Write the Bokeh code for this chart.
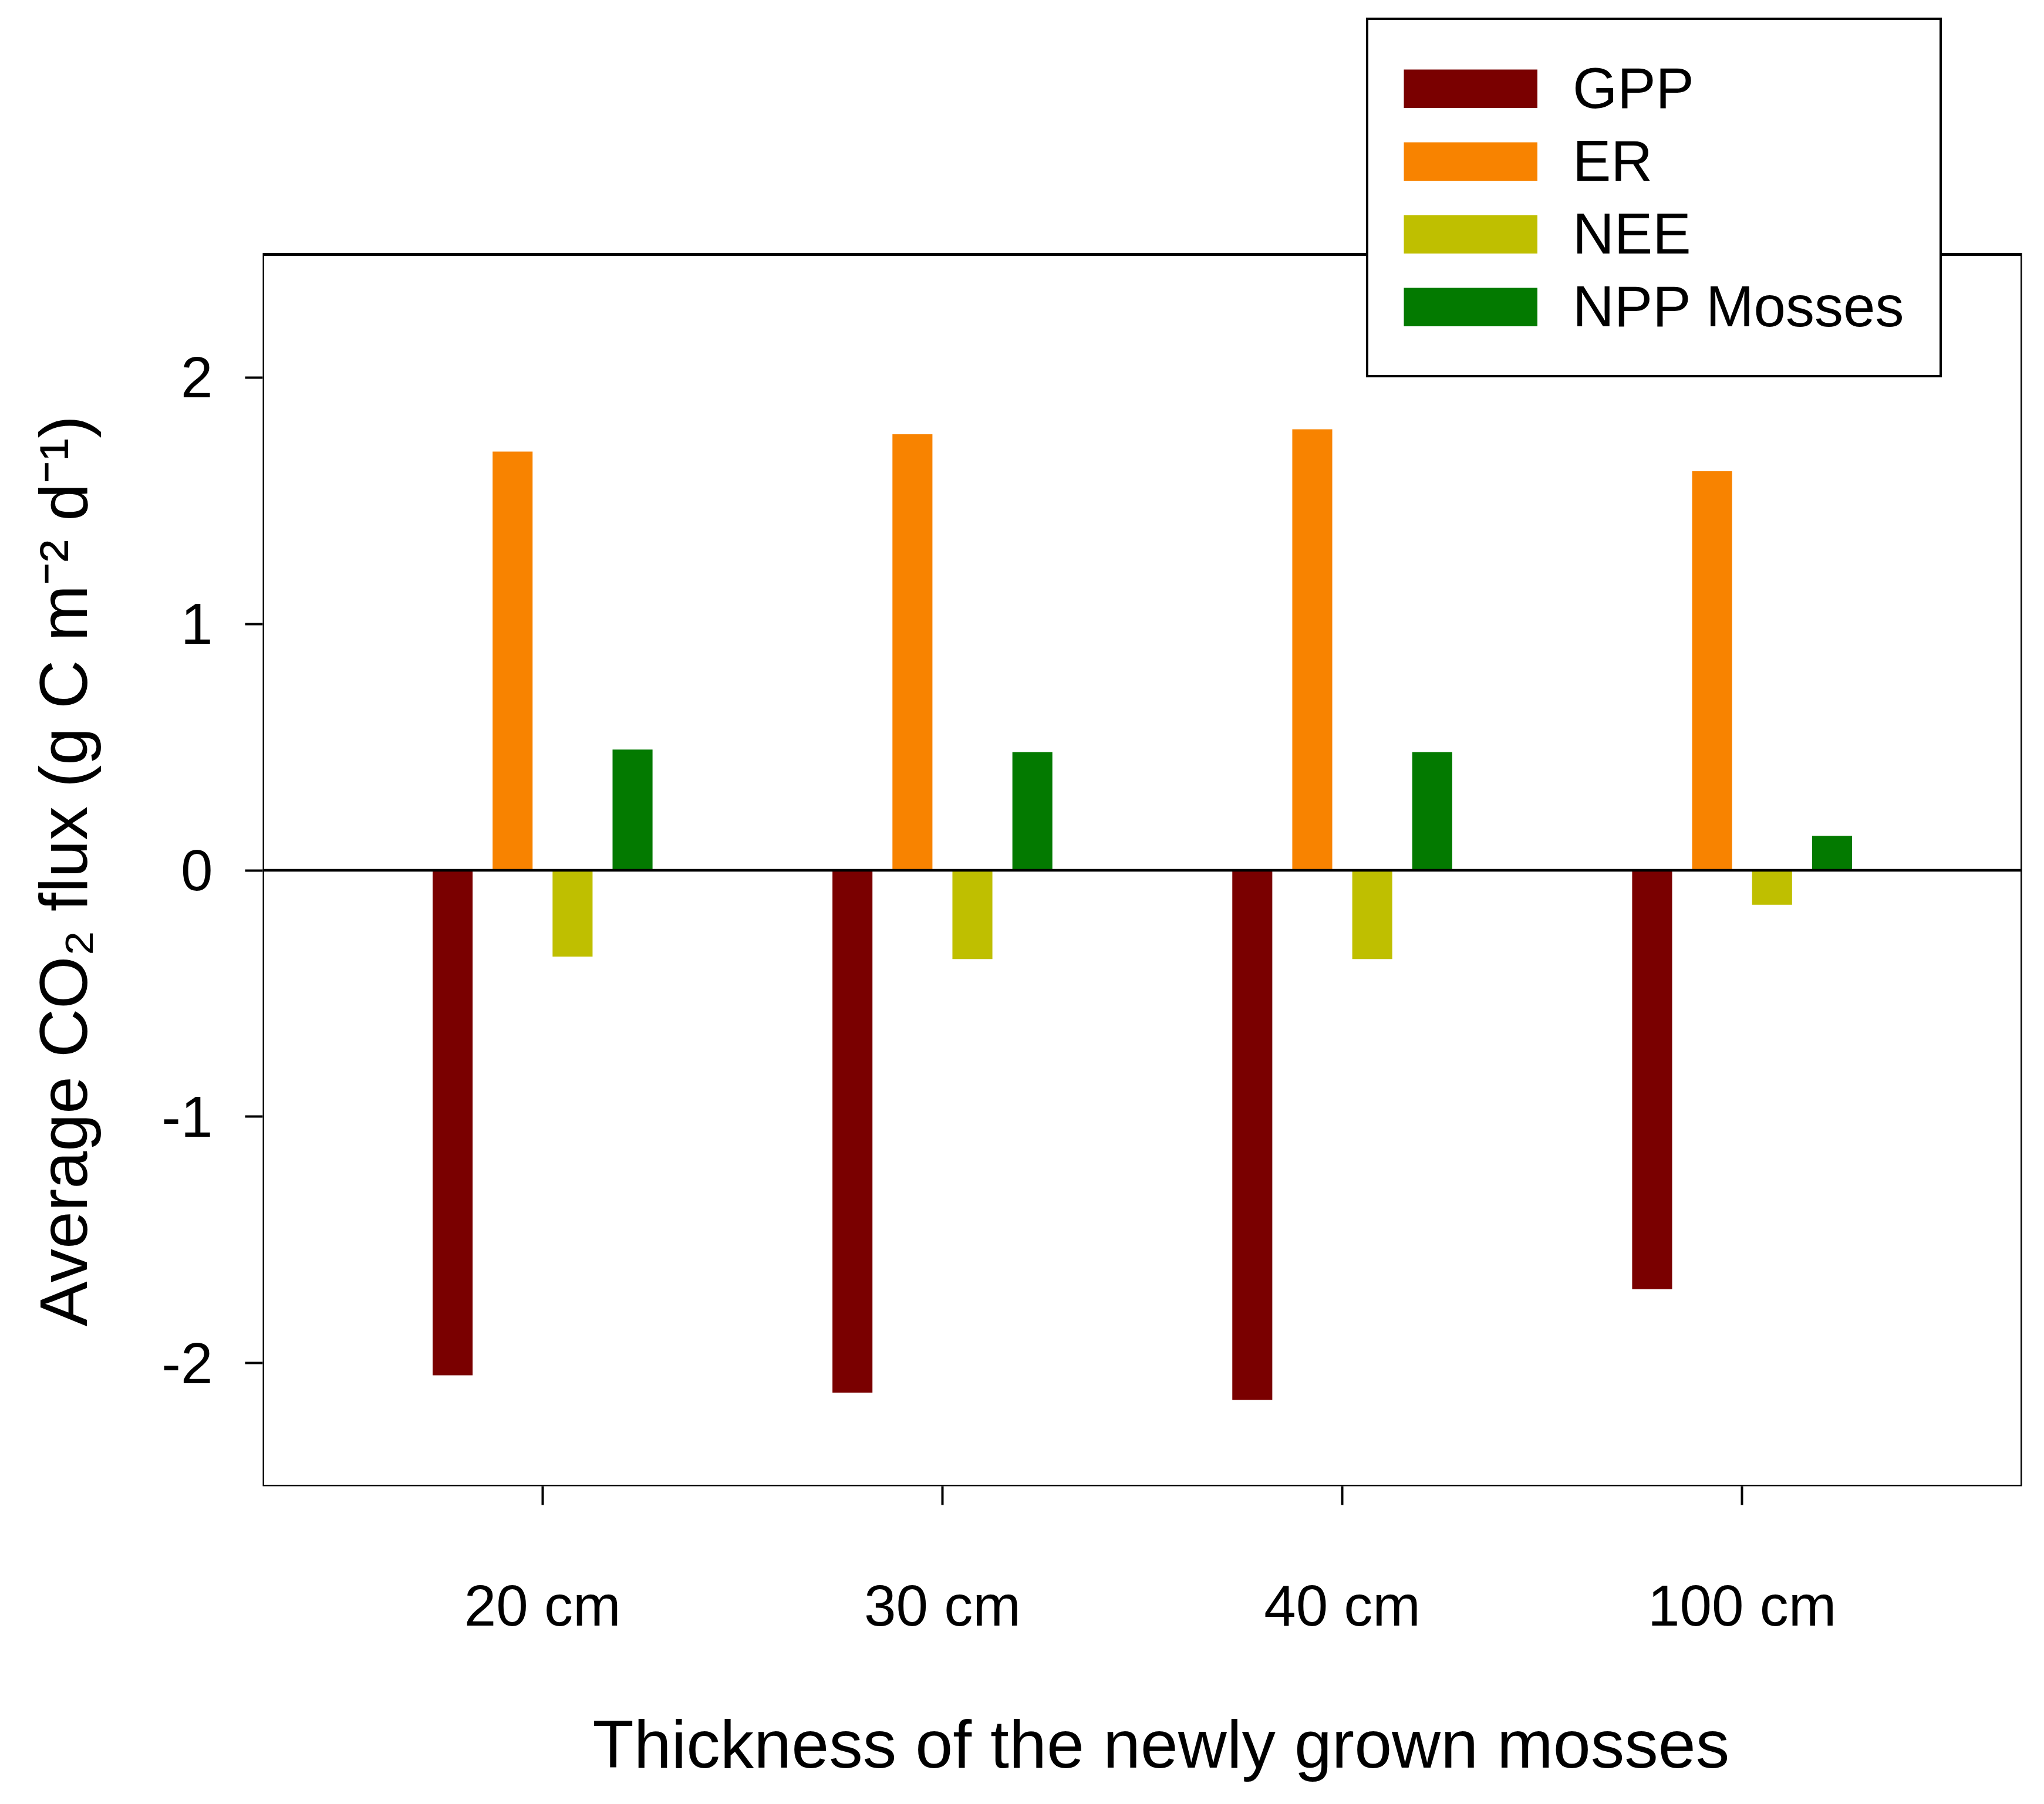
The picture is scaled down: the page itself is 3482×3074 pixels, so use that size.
import numpy as np
from bokeh.embed import file_html
from bokeh.models import (BoxAnnotation, ColumnDataSource, FixedTicker, Legend,
                          LegendItem, Range1d, Span)
from bokeh.plotting import figure
from bokeh.resources import INLINE
from bokeh.transform import dodge

# data
depths = ["20 cm", "30 cm", "40 cm", "100 cm"]
gpp = [-2.05, -2.12, -2.15, -1.70]
er = [1.70, 1.77, 1.79, 1.62]
nee = [-0.35, -0.36, -0.36, -0.14]
npp_mosses = [0.49, 0.48, 0.48, 0.14]

series = ["GPP", "ER", "NEE", "NPP Mosses"]
colors = ["#7a0000", "#f88300", "#bfbf00", "#037a00"]
y_ticks = [-2, -1, 0, 1, 2]

# axes box of the chart; the figure's frame is taller so the legend fits above it
x_lo, x_hi = 0.3, 4.7
y_lo, y_hi = -2.5, 2.5
y_frame_top = 3.484

FONT = "Liberation Sans"
NBSP = "\u00a0"

pos = list(range(1, len(depths) + 1))
source = ColumnDataSource(data=dict(x=pos, GPP=gpp, ER=er, NEE=nee, NPP=npp_mosses))

p = figure(width=3466, height=3058, output_backend="svg", toolbar_location=None,
           tools="", x_range=Range1d(x_lo, x_hi), y_range=Range1d(y_lo, y_frame_top),
           min_border_left=447, min_border_top=20, min_border_right=22,
           min_border_bottom=526)

offsets = [-0.225, -0.075, 0.075, 0.225]
cols = ["GPP", "ER", "NEE", "NPP"]
items = []
for name, col, off, c in zip(series, cols, offsets, colors):
    p.vbar(x=dodge("x", off), top=col, bottom=0, width=0.1, source=source,
           fill_color=c, line_color=None)
    # legend swatch: a thick line with no visible points (bar swatches get inset)
    swatch = p.line(x=np.array([np.nan]), y=np.array([np.nan]), line_color=c,
                    line_width=66, line_cap="butt")
    items.append(LegendItem(label=name, renderers=[swatch]))

p.add_layout(Span(location=0, dimension="width", line_color="black", line_width=4.5))
p.add_layout(BoxAnnotation(left=x_lo, right=x_hi, bottom=y_lo, top=y_hi,
                           fill_alpha=0, line_color="black", line_alpha=1,
                           line_width=5))

# frame and axes
p.grid.visible = False
p.outline_line_color = None

for ax in (p.xaxis[0], p.yaxis[0]):
    ax.axis_line_color = None
    ax.major_tick_line_width = 4
    ax.major_tick_in = 0
    ax.minor_tick_line_color = None
    ax.major_label_text_font = FONT
    ax.major_label_text_font_size = "98px"
    ax.major_label_text_color = "black"
    ax.axis_label_text_font = FONT
    ax.axis_label_text_font_size = "115px"
    ax.axis_label_text_font_style = "normal"
    ax.axis_label_text_color = "black"

p.yaxis.ticker = FixedTicker(ticks=y_ticks)
p.yaxis.major_label_overrides = {t: str(t) for t in y_ticks}
p.yaxis.major_tick_out = 30
p.yaxis.major_label_standoff = 55
# trailing no-break spaces centre the label on the axes box instead of the taller frame
p.yaxis.axis_label = "Average CO\u2082 flux (g C m\u207b\u00b2 d\u207b\u00b9)" + NBSP * 13
p.yaxis.axis_label_standoff = 100

p.xaxis.ticker = FixedTicker(ticks=pos)
p.xaxis.major_label_overrides = {i: d for i, d in zip(pos, depths)}
p.xaxis.major_tick_out = 32
p.xaxis.major_label_standoff = 116
p.xaxis.axis_label = NBSP * 2 + "Thickness of the newly grown mosses"
p.xaxis.axis_label_standoff = 114

legend = Legend(items=items, location=(1880, 1889))
legend.label_text_font = FONT
legend.label_text_font_size = "98px"
legend.label_text_color = "black"
legend.glyph_width = 228
legend.glyph_height = 66
legend.label_standoff = 60
legend.padding = 60
legend.spacing = 11
legend.margin = 0
legend.border_line_color = "black"
legend.border_line_alpha = 1
legend.border_line_width = 4
legend.background_fill_color = "white"
legend.background_fill_alpha = 1
p.add_layout(legend)

open("out.html", "w").write(file_html(p, INLINE))
